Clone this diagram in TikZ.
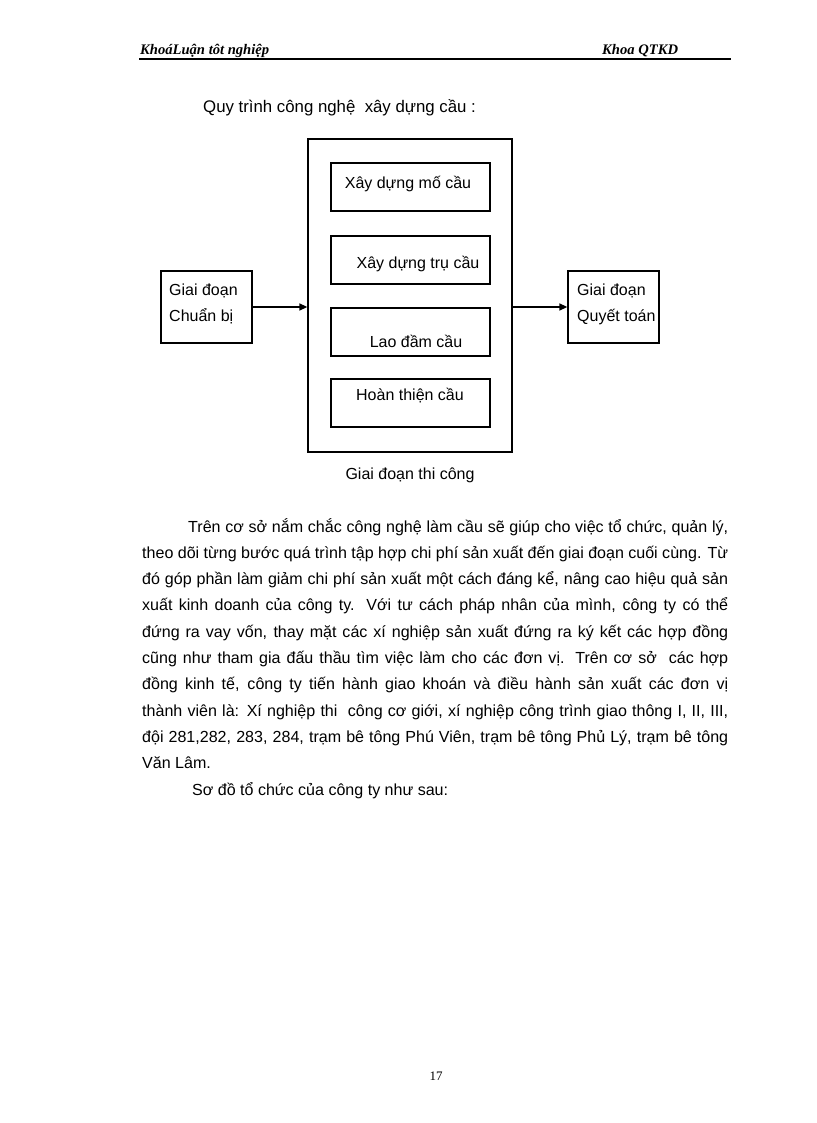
\documentclass[tikz,border=0pt]{standalone}
\usepackage{fontspec}
\setmainfont{Liberation Sans}
\newfontfamily\seriffont{Liberation Serif}
\usetikzlibrary{arrows.meta}
\newcommand{\jl}[2]{\hbox to #1{\spaceskip=.27em plus 20em minus .14em\relax #2}}
\tikzset{
  box/.style={draw, line width=1.3pt, inner sep=0pt},
  txt/.style={anchor=base, inner sep=0pt, font=\fontsize{16}{19}\selectfont},
  ltxt/.style={anchor=base west, inner sep=0pt, font=\fontsize{16}{19}\selectfont},
  para/.style={anchor=base west, inner sep=0pt, font=\fontsize{16.05}{20}\selectfont},
  ttl/.style={anchor=base west, inner sep=0pt, font=\fontsize{16.8}{20}\selectfont},
  hdr/.style={anchor=base west, inner sep=0pt, font=\seriffont\bfseries\itshape\fontsize{14.6}{16}\selectfont},
  arr/.style={line width=1.3pt, -{Triangle[length=8pt,width=7pt]}},
}
\begin{document}
\begin{tikzpicture}[x=1pt,y=-1pt]
\useasboundingbox (0,0) rectangle (816,1123);
% header
\node[hdr] (h1) at (140,55) {KhoáLuận tôt nghiệp};
\node[hdr] (h2) at (602,55) {Khoa QTKD};
\coordinate (r1) at (139,59);
\coordinate (r2) at (731,59);
\draw[line width=1.3pt] (r1) -- (r2);
% title
\node[ttl] (title) at (203,113) {Quy trình công nghệ\ \ xây dựng cầu :};
% diagram
\node[box, minimum width=204pt, minimum height=313pt] (outer) at (410,295.5) {};
\node[box, minimum width=159pt, minimum height=48pt] (b1) at (410.5,187) {};
\node[box, minimum width=159pt, minimum height=48pt] (b2) at (410.5,260) {};
\node[box, minimum width=159pt, minimum height=48pt] (b3) at (410.5,332) {};
\node[box, minimum width=159pt, minimum height=48pt] (b4) at (410.5,403) {};
\node[txt] (t1) at (408,189) {Xây dựng mố cầu};
\node[txt] (t2) at (418,268) {Xây dựng trụ cầu};
\node[txt] (t3) at (416,347) {Lao đầm cầu};
\node[txt] (t4) at (410,400) {Hoàn thiện cầu};
\node[box, minimum width=91pt, minimum height=72pt] (left) at (206.5,307) {};
\node[box, minimum width=91pt, minimum height=72pt] (right) at (613.5,307) {};
\node[ltxt] (l1) at (169,295.5) {Giai đoạn};
\node[ltxt] (l2) at (169,321) {Chuẩn bị};
\node[ltxt] (r1t) at (577,295.5) {Giai đoạn};
\node[ltxt] (r2t) at (577,321) {Quyết toán};
\draw[arr] (left.east) -- (left.east -| outer.west);
\draw[arr] (right.west -| outer.east) -- (right.west);
\node[txt] (cap) at (410,479) {Giai đoạn thi công};
% paragraph
\node[para] (p1) at (188,532) {\jl{540pt}{Trên cơ sở nắm chắc công nghệ làm cầu sẽ giúp cho việc tổ chức, quản lý,}};
\node[para] (p2) at (142,558.3) {\jl{586pt}{theo dõi từng bước quá trình tập hợp chi phí sản xuất đến giai đoạn cuối cùng. Từ}};
\node[para] (p3) at (142,584.6) {\jl{586pt}{đó góp phần làm giảm chi phí sản xuất một cách đáng kể, nâng cao hiệu quả sản}};
\node[para] (p4) at (142,610.9) {\jl{586pt}{xuất kinh doanh của công ty. Với tư cách pháp nhân của mình, công ty có thể}};
\node[para] (p5) at (142,637.2) {\jl{586pt}{đứng ra vay vốn, thay mặt các xí nghiệp sản xuất đứng ra ký kết các hợp đồng}};
\node[para] (p6) at (142,663.5) {\jl{586pt}{cũng như tham gia đấu thầu tìm việc làm cho các đơn vị. Trên cơ sở\ \ các hợp}};
\node[para] (p7) at (142,689.8) {\jl{586pt}{đồng kinh tế, công ty tiến hành giao khoán và điều hành sản xuất các đơn vị}};
\node[para] (p8) at (142,716.1) {\jl{586pt}{thành viên là: Xí nghiệp thi\ \ công cơ giới, xí nghiệp công trình giao thông I, II, III,}};
\node[para] (p9) at (142,742.4) {\jl{586pt}{đội 281,282, 283, 284, trạm bê tông Phú Viên, trạm bê tông Phủ Lý, trạm bê tông}};
\node[para] (p10) at (142,768.7) {Văn Lâm.};
\node[para] (p11) at (192,795) {Sơ đồ tổ chức của công ty như sau:};
% page number
\node[anchor=base, inner sep=0pt, font=\seriffont\fontsize{13}{15}\selectfont] (pg) at (436,1080) {17};
\end{tikzpicture}
\end{document}
